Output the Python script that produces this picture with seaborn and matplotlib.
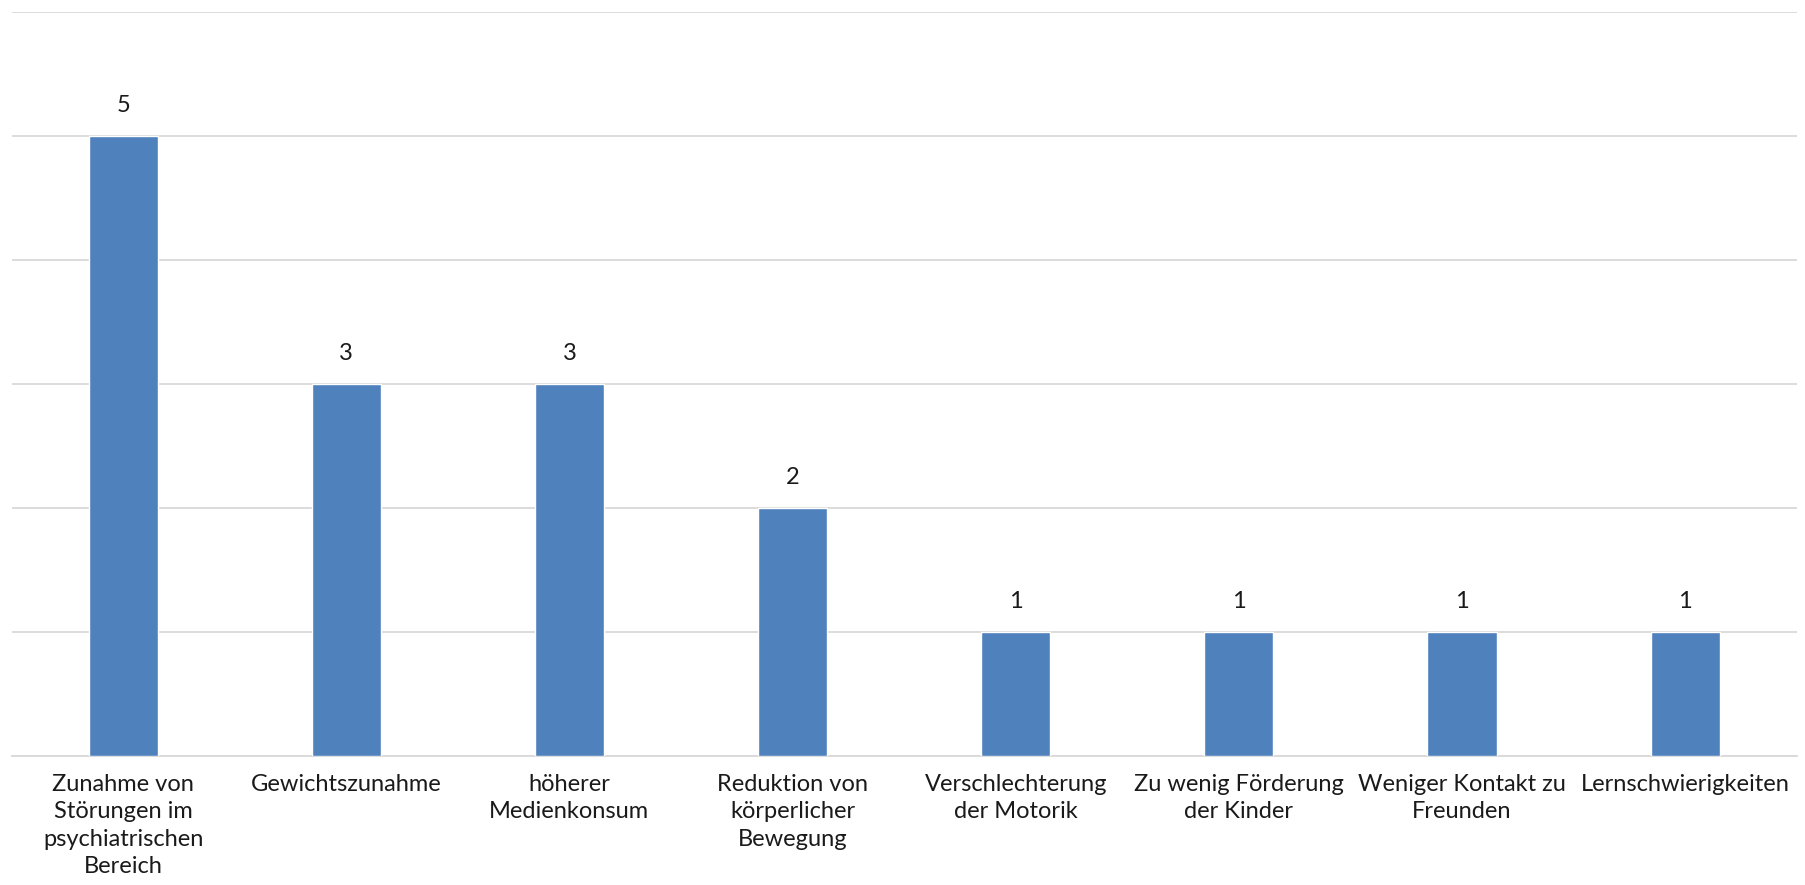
import seaborn as sns
import matplotlib.pyplot as plt
import pandas as pd

sns.set_style("white")
plt.rcParams['font.family'] = ['Lato', 'DejaVu Sans']

# data
categories = [
    "Zunahme von\nStörungen im\npsychiatrischen\nBereich",
    "Gewichtszunahme",
    "höherer\nMedienkonsum",
    "Reduktion von\nkörperlicher\nBewegung",
    "Verschlechterung\nder Motorik",
    "Zu wenig Förderung\nder Kinder",
    "Weniger Kontakt zu\nFreunden",
    "Lernschwierigkeiten",
]
counts = [5, 3, 3, 2, 1, 1, 1, 1]

df = pd.DataFrame({"Kategorie": categories, "Anzahl": counts})

fig = plt.figure(figsize=(18.05, 8.85), dpi=100)
ax = fig.add_axes([0.0064, 0.146, 0.989, 0.841])

sns.barplot(x="Kategorie", y="Anzahl", data=df, color="#4f81bd",
            width=0.31, saturation=1, ax=ax, zorder=3)

ax.set_ylim(0, 6)
ax.set_xlim(-0.5, len(categories) - 0.5)
ax.set_yticks(range(0, 7))
ax.set_yticklabels([])
ax.tick_params(axis="y", length=0)
ax.tick_params(axis="x", length=0, pad=13, labelsize=17, colors="#1a1a1a")
ax.yaxis.grid(True, color="#d9d9d9", linewidth=1.3, zorder=0)
ax.set_axisbelow(True)
for s in ["top", "left", "right"]:
    ax.spines[s].set_visible(False)
ax.spines["bottom"].set_color("#d9d9d9")
ax.spines["bottom"].set_linewidth(1.3)

for lbl in ax.get_xticklabels():
    lbl.set_ha("center")
    lbl.set_multialignment("center")
    lbl.set_va("top")
    lbl.set_linespacing(1.38)

ax.bar_label(ax.containers[0], labels=[str(v) for v in counts],
             padding=14, fontsize=17, color="#1a1a1a")

ax.set_xlabel("")
ax.set_ylabel("")

plt.savefig("out.png", dpi=100)
plt.close()
